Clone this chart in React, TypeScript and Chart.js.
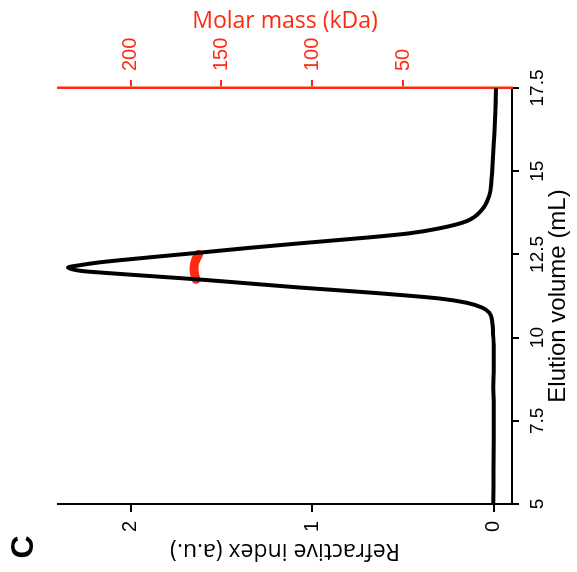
import React, { useEffect, useRef } from "react";
import { Chart, registerables } from "chart.js";

Chart.register(...registerables);

// Refractive index trace (elution volume in mL, RI in a.u.)
const elutionVolume = [
  5.0, 6.0, 7.0, 8.0, 8.5, 9.0, 9.76, 10.1, 10.45, 10.75, 10.9, 11.05, 11.175,
  11.355, 11.506, 11.627, 11.747, 11.852, 11.958, 12.003, 12.105, 12.184,
  12.259, 12.41, 12.551, 12.696, 12.831, 13.012, 13.133, 13.283, 13.494,
  13.855, 14.277, 14.639, 15.03, 15.84, 16.69, 17.5,
];
const refractiveIndex = [
  0.003, 0.002, 0.001, 0.0, 0.003, 0.001, 0.0, 0.004, 0.009, 0.025, 0.064,
  0.152, 0.3, 0.686, 1.072, 1.348, 1.623, 1.899, 2.174, 2.27, 2.345, 2.27,
  2.174, 1.899, 1.623, 1.348, 1.072, 0.686, 0.466, 0.3, 0.152, 0.064, 0.025,
  0.014, 0.009, 0.0, -0.008, -0.012,
];

// Molar mass across the peak (kDa)
const massVolume = [11.75, 11.9, 12.05, 12.2, 12.35, 12.5];
const molarMass = [164.0, 164.8, 165.1, 164.9, 164.0, 162.6];

const volumeTicks = [5, 7.5, 10, 12.5, 15, 17.5];
const riTicks = [0, 1, 2];
const massTicks = [50, 100, 150, 200];

const RED = "#ff2a12";
const SANS = '"Liberation Sans", Arial, sans-serif';
const TITLE = '"Open Sans", "Noto Sans", sans-serif';

const panelLabel = {
  id: "panelLabel",
  afterDraw(chart: any) {
    const ctx = chart.ctx;
    ctx.save();
    ctx.font = `bold 32px ${SANS}`;
    ctx.fillStyle = "#000";
    ctx.textAlign = "center";
    ctx.textBaseline = "middle";
    ctx.fillText("C", 25, 24);
    ctx.restore();
  },
};

export default function App() {
  const ref = useRef<HTMLCanvasElement | null>(null);

  useEffect(() => {
    if (!ref.current) return;
    const chart = new Chart(ref.current, {
      type: "line",
      data: {
        datasets: [
          {
            label: "Refractive index",
            data: elutionVolume.map((v, i) => ({ x: v, y: refractiveIndex[i] })),
            borderColor: "#000",
            borderWidth: 4,
            pointRadius: 0,
            cubicInterpolationMode: "monotone",
            yAxisID: "y",
          },
          {
            label: "Molar mass",
            data: massVolume.map((v, i) => ({ x: v, y: molarMass[i] })),
            borderColor: RED,
            borderWidth: 9,
            borderCapStyle: "round",
            borderJoinStyle: "round",
            pointRadius: 0,
            cubicInterpolationMode: "monotone",
            yAxisID: "y1",
          },
        ],
      },
      options: {
        responsive: false,
        animation: false,
        devicePixelRatio: 1,
        layout: { padding: { top: 58, left: 0, right: 0, bottom: 0 } },
        plugins: { legend: { display: false }, tooltip: { enabled: false } },
        scales: {
          x: {
            type: "linear",
            position: "bottom",
            min: 5,
            max: 17.5,
            afterBuildTicks: (s: any) => {
              s.ticks = volumeTicks.map((v) => ({ value: v }));
            },
            afterFit: (s: any) => {
              s.height = 65;
            },
            grid: {
              drawOnChartArea: false,
              tickLength: 7,
              color: "#000",
              lineWidth: 2,
            },
            border: { color: "#000", width: 2 },
            ticks: {
              color: "#000",
              padding: 7,
              maxRotation: 0,
              font: { family: SANS, size: 19 },
              callback: (v: any) => String(v),
            },
            title: {
              display: true,
              text: "Elution volume (mL)",
              color: "#000",
              font: { family: SANS, size: 24 },
              padding: { top: 0, bottom: 4 },
            },
          },
          y: {
            type: "linear",
            position: "left",
            min: -0.1,
            max: 2.4,
            afterBuildTicks: (s: any) => {
              s.ticks = riTicks.map((v) => ({ value: v }));
            },
            afterFit: (s: any) => {
              s.width = 68;
            },
            grid: {
              drawOnChartArea: false,
              tickLength: 8,
              color: "#000",
              lineWidth: 2,
            },
            border: { color: "#000", width: 2 },
            ticks: {
              color: "#000",
              padding: 9,
              font: { family: SANS, size: 20 },
              callback: (v: any) => String(v),
            },
            title: {
              display: true,
              text: "Refractive index (a.u.)",
              color: "#000",
              font: { family: TITLE, size: 23 },
              padding: { top: 8, bottom: 0 },
            },
          },
          y1: {
            type: "linear",
            position: "right",
            min: -10,
            max: 240,
            afterBuildTicks: (s: any) => {
              s.ticks = massTicks.map((v) => ({ value: v }));
            },
            afterFit: (s: any) => {
              s.width = 88;
            },
            grid: {
              drawOnChartArea: false,
              tickLength: 8,
              color: RED,
              lineWidth: 2,
            },
            border: { color: RED, width: 2.5 },
            ticks: {
              color: RED,
              padding: 9,
              font: { family: SANS, size: 20 },
              callback: (v: any) => String(v),
            },
            title: {
              display: true,
              text: "Molar mass (kDa)",
              color: RED,
              font: { family: TITLE, size: 23 },
              padding: { top: 8, bottom: 0 },
            },
          },
        },
      },
      plugins: [panelLabel],
    } as any);
    return () => chart.destroy();
  }, []);

  return (
    <div
      style={{
        position: "fixed",
        left: 0,
        top: 0,
        width: 577,
        height: 572,
        overflow: "hidden",
        background: "#fff",
      }}
    >
      <div
        style={{
          position: "absolute",
          left: 0,
          top: 0,
          width: 572,
          height: 577,
          transformOrigin: "0 0",
          transform: "translateY(572px) rotate(-90deg)",
        }}
      >
        <canvas ref={ref} width={572} height={577} style={{ display: "block" }} />
      </div>
    </div>
  );
}
